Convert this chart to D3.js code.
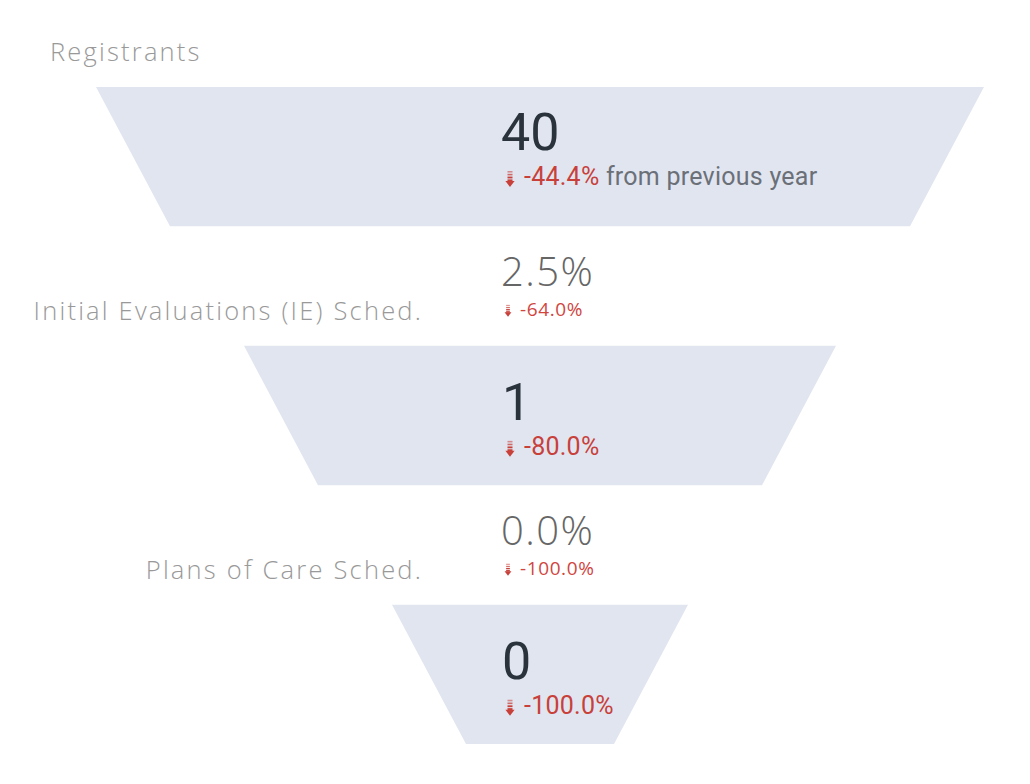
<!DOCTYPE html>
<html lang="en">
  <head>
    <meta charset="UTF-8" />
    <title>Registrant Funnel</title>
    <script src="https://d3js.org/d3.v7.min.js"></script>
    <style>
      html, body { margin: 0; padding: 0; background: #fff; }
      .label { font-family: 'Open Sans', 'Lato', sans-serif; font-weight: 300; fill: #999; letter-spacing: 2.2px; }
      .conv { font-family: 'Open Sans', 'Lato', sans-serif; font-weight: 300; fill: #666; letter-spacing: 1.4px; }
      .conv-change { font-family: 'Open Sans', 'Lato', sans-serif; font-weight: 400; fill: #d0463f; letter-spacing: 0.6px; }
      .count { font-family: Roboto, sans-serif; font-weight: 400; fill: #2a323b; }
      .change { font-family: Roboto, sans-serif; fill: #c8403a; }
      .suffix { font-family: Roboto, sans-serif; fill: #6b7078; }
    </style>
  </head>
  <body>
    <div id="funnel"></div>
    <script>
      // stages and values
      const stages = ['Registrants', 'Initial Evaluations (IE) Sched.', 'Plans of Care Sched.'];
      const counts = [40, 1, 0];
      const countChange = [-44.4, -80.0, -100.0];
      const conversion = [null, 2.5, 0.0];
      const conversionChange = [null, -64.0, -100.0];

      const width = 1030;
      const height = 784;
      const cx = 540;

      const svg = d3
        .select('#funnel')
        .append('svg')
        .attr('width', width)
        .attr('height', height);

      // vertical slot for each stage
      const y = d3.scaleBand().domain(stages).range([87, 744]).paddingInner(0.462).paddingOuter(0);

      // funnel width shrinks by the same step at every edge (top/bottom of each segment)
      const w = d3.scaleLinear().domain([0, 6]).range([888, 0]);

      const fmt = (v) => v.toFixed(1) + '%';

      function arrow(g, s) {
        const a = g.append('g').attr('transform', `scale(${s})`).attr('fill', '#c8403a');
        a.append('rect').attr('x', -2.5).attr('y', 0).attr('width', 5).attr('height', 1.6).attr('opacity', 0.55);
        a.append('rect').attr('x', -2.5).attr('y', 2.8).attr('width', 5).attr('height', 1.6).attr('opacity', 0.75);
        a.append('rect').attr('x', -2.5).attr('y', 5.6).attr('width', 5).attr('height', 1.8);
        a.append('rect').attr('x', -2.5).attr('y', 8.4).attr('width', 5).attr('height', 2);
        a.append('path').attr('d', 'M-4.6,10 L4.6,10 L0,16 Z');
      }

      stages.forEach((stage, i) => {
        const top = y(stage);
        const bot = top + y.bandwidth();
        const tw = w(2 * i) / 2;
        const bw = w(2 * i + 1) / 2;

        svg
          .append('path')
          .attr('d', `M${cx - tw},${top} L${cx + tw},${top} L${cx + bw},${bot} L${cx - bw},${bot} Z`)
          .attr('fill', '#e1e5f0');

        const off = i === 0 ? 63 : 74;

        svg
          .append('text')
          .attr('class', 'count')
          .attr('x', i === 0 ? 501 : 502)
          .attr('y', top + off)
          .attr('font-size', 52)
          .text(counts[i]);

        const sub = svg.append('g').attr('transform', `translate(510,${top + off + 21})`);
        arrow(sub, 1);
        const t = sub
          .append('text')
          .attr('x', 14)
          .attr('y', 14)
          .attr('font-size', 25)
          .attr('letter-spacing', 0.25);
        t.append('tspan').attr('class', 'change').text(fmt(countChange[i]));
        if (i === 0) t.append('tspan').attr('class', 'suffix').text(' from previous year');

        if (i === 0) {
          svg
            .append('text')
            .attr('class', 'label')
            .attr('x', 50)
            .attr('y', 61)
            .attr('font-size', 25.5)
            .text(stage);
        } else {
          svg
            .append('text')
            .attr('class', 'label')
            .attr('x', 423)
            .attr('y', top - 26)
            .attr('text-anchor', 'end')
            .attr('font-size', 25.5)
            .text(stage);

          svg
            .append('text')
            .attr('class', 'conv')
            .attr('x', 501)
            .attr('y', top - 60)
            .attr('font-size', 40)
            .text(fmt(conversion[i]));

          const cg = svg.append('g').attr('transform', `translate(508,${top - 41})`);
          arrow(cg, 0.75);
          cg.append('text')
            .attr('class', 'conv-change')
            .attr('x', 12)
            .attr('y', 11)
            .attr('font-size', 19)
            .text(fmt(conversionChange[i]));
        }
      });
    </script>
  </body>
</html>
